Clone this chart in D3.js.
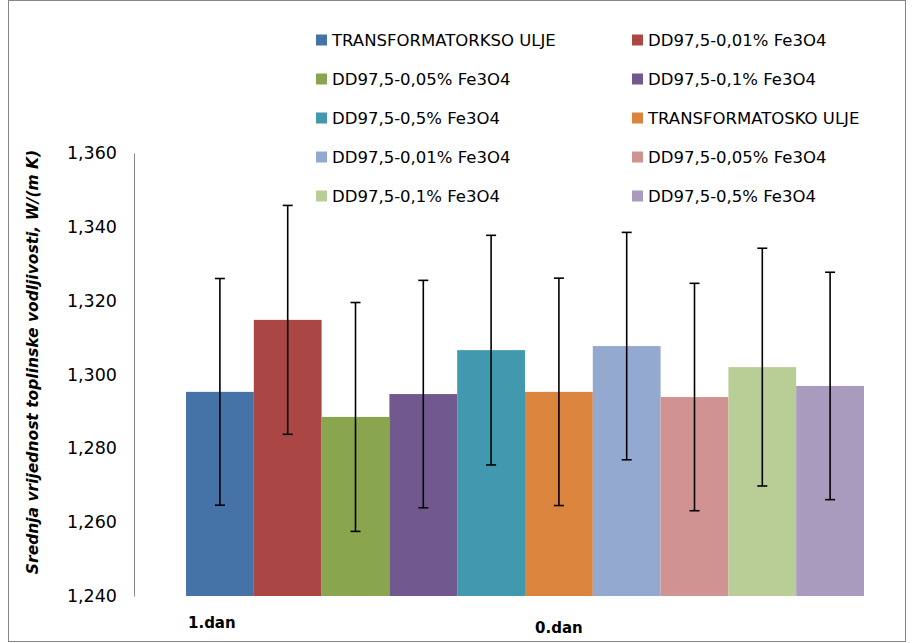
<!DOCTYPE html>
<html>
<head>
<meta charset="utf-8">
<script src="https://cdn.jsdelivr.net/npm/d3@7"></script>
<style>
  body { margin: 0; background: #fff; }
  svg text { font-family: "DejaVu Sans", "Liberation Sans", sans-serif; fill: #000; }
</style>
</head>
<body>
<script>
// Data
const series = [
  "TRANSFORMATORKSO ULJE", "DD97,5-0,01% Fe3O4",
  "DD97,5-0,05% Fe3O4", "DD97,5-0,1% Fe3O4",
  "DD97,5-0,5% Fe3O4", "TRANSFORMATOSKO ULJE",
  "DD97,5-0,01% Fe3O4", "DD97,5-0,05% Fe3O4",
  "DD97,5-0,1% Fe3O4", "DD97,5-0,5% Fe3O4"
];
const means = [1.2953, 1.3148, 1.2885, 1.2947, 1.3066, 1.2953, 1.3077, 1.2939, 1.3020, 1.2969];
const errors = [0.0307, 0.0310, 0.0310, 0.0308, 0.0311, 0.0308, 0.0308, 0.0308, 0.0322, 0.0308];
const colors = ["#4572A7", "#AA4643", "#89A54E", "#71588F", "#4198AF",
                "#DB843D", "#93A9CF", "#D19392", "#B9CD96", "#A99BBD"];
const yTicks = [1.24, 1.26, 1.28, 1.30, 1.32, 1.34, 1.36];
const categories = ["1.dan", "0.dan"];
const yTitle = "Srednja vrijednost toplinske vodljivosti, W/(m K)";

const width = 914;
const height = 643;

const locale = d3.formatLocale({ decimal: ",", thousands: ".", grouping: [3], currency: ["", ""] });
const fmt = locale.format(".3f");

let svg = d3.select("body").append("svg")
    .attr("width", width)
    .attr("height", height);

// Chart border
svg.append("rect")
    .attr("x", 8.5).attr("y", 0.5)
    .attr("width", 897).attr("height", 641)
    .attr("fill", "none")
    .attr("stroke", "#868686");

// Scales
const x = d3.scaleBand()
    .domain(d3.range(series.length))
    .range([186, 864])
    .padding(0);

const y = d3.scaleLinear()
    .domain([1.24, 1.36])
    .range([596, 153]);

// Y axis
let yAxis = svg.append("g")
    .attr("transform", "translate(134,0)")
    .call(d3.axisLeft(y).tickValues(yTicks).tickFormat(fmt).tickSize(0).tickPadding(17));
yAxis.select(".domain").attr("stroke", "#868686");
yAxis.selectAll("text")
    .style("font-family", "'DejaVu Sans', sans-serif")
    .style("font-size", "17.5px")
    .attr("fill", "#000");

// Y title
svg.append("text")
    .attr("transform", "translate(38,362) rotate(-90)")
    .attr("text-anchor", "middle")
    .style("font-size", "15.5px")
    .style("font-weight", "bold")
    .style("font-style", "italic")
    .text(yTitle);

// Bars
svg.append("g").selectAll("rect")
    .data(means)
    .join("rect")
    .attr("x", (d, i) => x(i))
    .attr("y", d => y(d))
    .attr("width", x.bandwidth())
    .attr("height", d => y(1.24) - y(d))
    .attr("fill", (d, i) => colors[i]);

// Error bars
let gErr = svg.append("g")
    .attr("stroke", "#000")
    .attr("stroke-width", 1.6);
means.forEach((m, i) => {
    const cx = x(i) + x.bandwidth() / 2;
    const lo = y(m - errors[i]);
    const hi = y(m + errors[i]);
    gErr.append("line").attr("x1", cx).attr("x2", cx).attr("y1", lo).attr("y2", hi);
    gErr.append("line").attr("x1", cx - 5).attr("x2", cx + 5).attr("y1", lo).attr("y2", lo);
    gErr.append("line").attr("x1", cx - 5).attr("x2", cx + 5).attr("y1", hi).attr("y2", hi);
});

// Category labels
svg.append("text")
    .attr("x", x(0) + 2).attr("y", 628)
    .style("font-size", "15px").style("font-weight", "bold")
    .text(categories[0]);
svg.append("text")
    .attr("x", x(5) + x.bandwidth() / 2).attr("y", 633)
    .attr("text-anchor", "middle")
    .style("font-size", "15px").style("font-weight", "bold")
    .text(categories[1]);

// Legend, two columns
let legend = svg.append("g");
series.forEach((s, i) => {
    const col = i % 2;
    const row = Math.floor(i / 2);
    const lx = 316 + col * 316;
    const ly = 40 + row * 39;
    legend.append("rect")
        .attr("x", lx).attr("y", ly - 5.5)
        .attr("width", 11).attr("height", 11)
        .attr("fill", colors[i]);
    legend.append("text")
        .attr("x", lx + 16).attr("y", ly)
        .attr("dy", "0.36em")
        .style("font-size", "16.5px")
        .text(s);
});
</script>
</body>
</html>
